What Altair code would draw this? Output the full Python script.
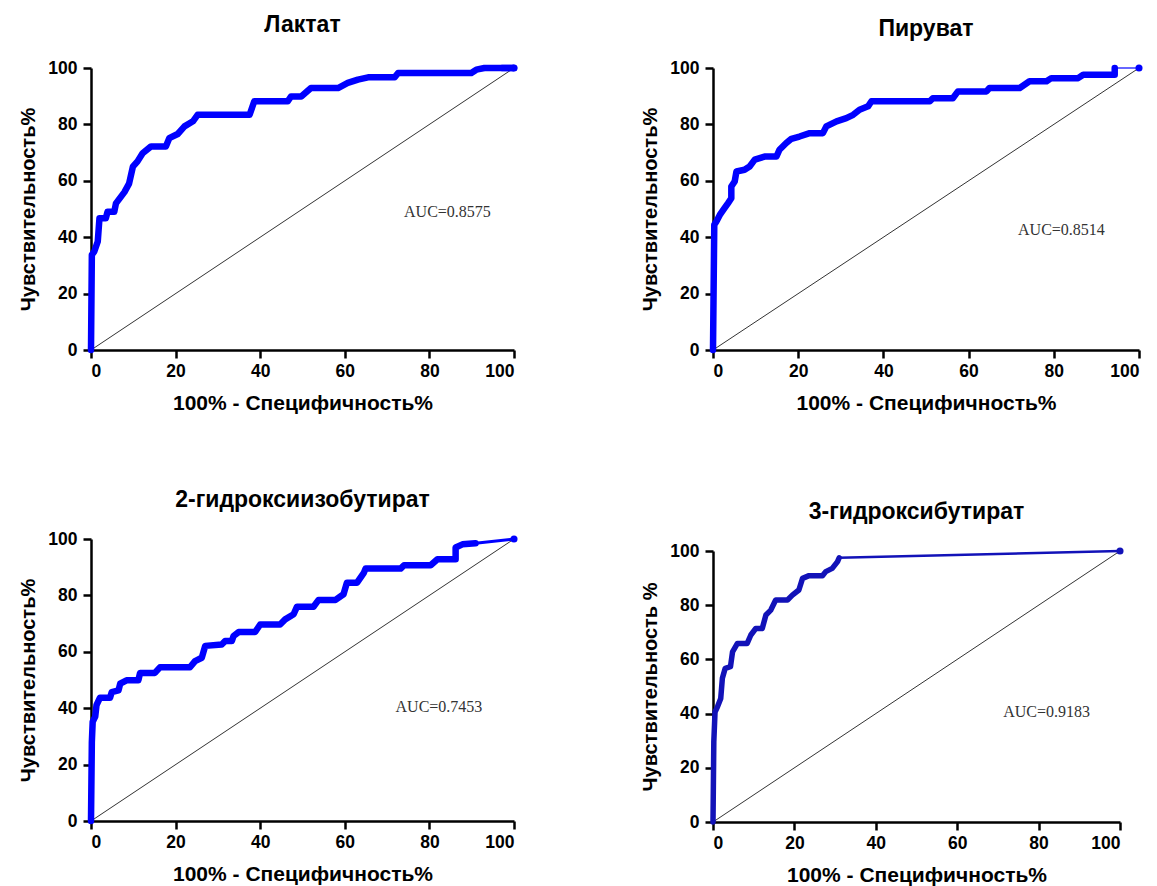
import altair as alt
import pandas as pd

# ---------------- data ----------------
TITLES = ["Лактат", "Пируват", "2-гидроксиизобутират", "3-гидроксибутират"]
X_TITLE = "100% - Специфичность%"
Y_TITLES = ["Чувствительность%", "Чувствительность%", "Чувствительность%", "Чувствительность %"]
TICKS = [0, 20, 40, 60, 80, 100]

P1_X = [0, 0.2, 0.8, 1.6, 2, 3.5, 3.9, 5.5, 5.9, 7.1, 7.9, 9, 9.9, 11, 12.2, 14.2, 17.7, 18.5,
        20.5, 22.1, 24.1, 25.2, 37.5, 38.6, 46.5, 47.3, 49.7, 52, 58.4, 60.7, 63.1, 65.5, 71.8,
        72.6, 89.9, 91.1, 93, 97, 100]
P1_Y = [0, 33.7, 35, 38.5, 46.7, 46.7, 49, 49, 52, 54.4, 56, 59, 65, 66.9, 69.8, 72.2, 72.2, 75.1,
        76.6, 79.3, 81.1, 83.4, 83.4, 88.2, 88.2, 89.9, 89.9, 92.9, 92.9, 94.7, 95.9, 96.7, 96.7,
        98.2, 98.2, 99.4, 100, 100, 100]
P1_TAIL_X = [97, 100]
P1_TAIL_Y = [100, 100]

P2_X = [0, 0.3, 0.8, 1.6, 2.7, 3.5, 4.3, 4.3, 5.1, 5.5, 7.4, 8.6, 9.8, 12.1, 14.9, 15.6, 17.2,
        18.4, 20.3, 22.7, 25.8, 26.6, 29, 31.3, 32.9, 34.4, 36.4, 37.2, 50.9, 51.6, 56.3, 57.5,
        64.2, 64.9, 72, 74.3, 78.3, 79.4, 85.7, 86.9, 94.3, 94.3]
P2_Y = [0, 44.4, 45.6, 47.9, 50.3, 52, 53.8, 58, 59.8, 63.3, 63.9, 65.1, 67.5, 68.6, 68.6, 71, 73.4,
        74.9, 75.7, 76.9, 76.9, 79.3, 81.1, 82.2, 83.4, 85.2, 86.4, 88.2, 88.2, 89.3, 89.3, 91.7,
        91.7, 92.9, 92.9, 95.3, 95.3, 96.4, 96.4, 97.6, 97.6, 100]
P2_TAIL_X = [94.3, 100]
P2_TAIL_Y = [100, 100]

P3_X = [0, 0.2, 0.4, 1, 1.3, 2.1, 4.5, 4.9, 6.5, 6.9, 8.4, 11.2, 11.6, 15.1, 16.3, 23.4, 24.6,
        26.2, 27, 30.9, 31.7, 33.3, 33.7, 34.9, 38.8, 40, 44.7, 45.9, 47.9, 48.7, 52.6, 53.8,
        57.8, 59.7, 60.5, 62.9, 64.5, 64.9, 73.2, 74, 80.3, 81.9, 86.2, 86.2, 87.8, 90.9]
P3_Y = [0, 28, 35.2, 37, 41.1, 43.7, 43.7, 45.7, 46.3, 48.7, 49.9, 49.9, 52.5, 52.5, 54.5, 54.5,
        56.7, 57.9, 62.1, 62.6, 63.8, 63.8, 65.6, 67, 67, 69.7, 69.7, 71.5, 73.3, 76, 76, 78.4,
        78.4, 80.4, 84.5, 84.5, 88, 89.5, 89.5, 90.7, 90.7, 92.8, 92.8, 97, 98.1, 98.5]
P3_TAIL_X = [90.9, 100]
P3_TAIL_Y = [98.5, 100]

P4_X = [0, 0.2, 0.5, 1.1, 1.9, 2.3, 3, 4.3, 4.8, 6, 8.4, 9.3, 10.5, 12.1, 13, 14.2, 15.4, 18.3,
        19.5, 21.1, 22, 23.6, 26.9, 27.7, 29.3, 30.6, 31]
P4_Y = [0, 29.6, 40.6, 42.5, 45.6, 53, 56.7, 57.3, 62.8, 65.9, 65.9, 69, 71.4, 71.4, 76.4, 78.2,
        81.9, 81.9, 83.7, 85.6, 89.9, 90.9, 90.9, 92.4, 93.6, 96.1, 97.5]
P4_TAIL_X = [31, 100]
P4_TAIL_Y = [97.5, 100]

AUC_LABELS = ["AUC=0.8575", "AUC=0.8514", "AUC=0.7453", "AUC=0.9183"]
AUC_X = [74, 71.6, 72, 71.3]
AUC_Y = [49, 42.5, 40.4, 40.6]

DIAG_X = [0, 100]
DIAG_Y = [0, 100]

COLORS = ["#0000FF", "#0000FF", "#0000FF", "#1212B8"]
CURVE_W = [6.5, 6.5, 6.5, 5.5]
TAIL_W = [6.5, 1.2, 3, 2.5]
SIZES = [(423, 282), (426, 282), (423, 282), (407, 271)]

SANS = "Liberation Sans"
SERIF = "Liberation Serif"


def panel(i, xs, ys, tx, ty):
    w, h = SIZES[i]
    xsc = alt.Scale(domain=[0, 100], nice=False)
    ysc = alt.Scale(domain=[0, 100], nice=False)
    xax = alt.Axis(values=TICKS, title=X_TITLE, format="d", titleFontSize=21,
                   titlePadding=13, labelPadding=4)
    yax = alt.Axis(values=TICKS, title=Y_TITLES[i], format="d", titleFontSize=20,
                   titlePadding=9, labelPadding=6)

    diag = alt.Chart(pd.DataFrame({"x": DIAG_X, "y": DIAG_Y})).mark_line(
        color="#333333", strokeWidth=1
    ).encode(x=alt.X("x:Q", scale=xsc, axis=xax), y=alt.Y("y:Q", scale=ysc, axis=yax))

    curve = alt.Chart(pd.DataFrame({"x": xs, "y": ys, "o": list(range(len(xs)))})).mark_line(
        color=COLORS[i], strokeWidth=CURVE_W[i], strokeJoin="round", strokeCap="round"
    ).encode(x="x:Q", y="y:Q", order="o:Q")

    tail = alt.Chart(pd.DataFrame({"x": tx, "y": ty})).mark_line(
        color=COLORS[i], strokeWidth=TAIL_W[i]
    ).encode(x="x:Q", y="y:Q")

    end = alt.Chart(pd.DataFrame({"x": [tx[-1]], "y": [ty[-1]]})).mark_point(
        color=COLORS[i], filled=True, size=50, opacity=1
    ).encode(x="x:Q", y="y:Q")

    auc = alt.Chart(pd.DataFrame({"x": [AUC_X[i]], "y": [AUC_Y[i]], "t": [AUC_LABELS[i]]})).mark_text(
        align="left", baseline="middle", font=SERIF, fontSize=16, color="#333333"
    ).encode(x="x:Q", y="y:Q", text="t:N")

    return alt.layer(diag, tail, curve, end, auc).properties(
        width=w, height=h,
        title=alt.TitleParams(TITLES[i], font=SANS, fontSize=23, fontWeight="bold",
                              color="#000000", anchor="middle", offset=18),
    )


p1 = panel(0, P1_X, P1_Y, P1_TAIL_X, P1_TAIL_Y)
p2 = panel(1, P2_X, P2_Y, P2_TAIL_X, P2_TAIL_Y)
p3 = panel(2, P3_X, P3_Y, P3_TAIL_X, P3_TAIL_Y)
p4 = panel(3, P4_X, P4_Y, P4_TAIL_X, P4_TAIL_Y)

chart = alt.hconcat(
    alt.vconcat(p1, p3, spacing=75),
    alt.vconcat(p2, p4, spacing=87),
    spacing=113,
).configure_view(stroke=None).configure_axis(
    grid=False,
    domainColor="#000000", domainWidth=2.5,
    tickColor="#000000", tickWidth=2.5, tickSize=8,
    labelFont=SANS, labelFontSize=17.5, labelFontWeight="bold", labelColor="#000000",
    titleFont=SANS, titleFontWeight="bold", titleColor="#000000",
).properties(
    padding={"left": 18, "top": 14, "right": 5, "bottom": 2},
    background="#ffffff",
)

chart.save("out.html", embed_options={"renderer": "svg", "actions": False})
